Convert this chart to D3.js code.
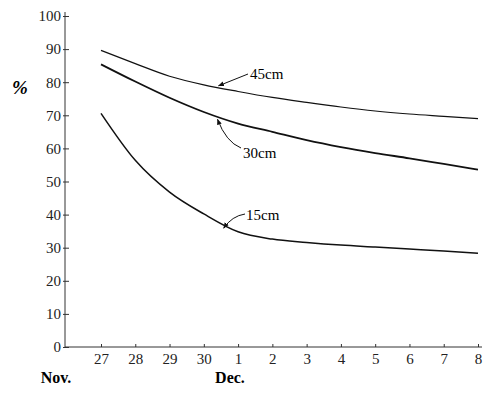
<!DOCTYPE html>
<html lang="en">
  <head>
    <meta charset="utf-8" />
    <title>soil moisture chart</title>
    <script type="text/javascript" src="https://d3js.org/d3.v7.min.js"></script>
    <style>
      body { margin: 0; background: #fff; }
    </style>
  </head>
  <body>
    <div id="graph"></div>

    <script type="text/javascript">
      /********************************
       * data
       ********************************/

      // day index 0 = Nov 27 ... 11 = Dec 8
      const days = [0, 1, 2, 3, 4, 5, 6, 7, 8, 9, 10, 11];
      const dayLabels = ["27", "28", "29", "30", "1", "2", "3", "4", "5", "6", "7", "8"];
      const yTicks = [0, 10, 20, 30, 40, 50, 60, 70, 80, 90, 100];

      const depth45 = [89.6, 85.6, 81.8, 79.2, 77.2, 75.4, 73.9, 72.5, 71.3, 70.4, 69.7, 69.0];
      const depth30 = [85.4, 80.2, 75.3, 71.0, 67.5, 65.0, 62.5, 60.4, 58.6, 57.0, 55.3, 53.6];
      const depth15 = [70.6, 56.4, 46.8, 40.2, 34.8, 32.6, 31.6, 30.8, 30.2, 29.6, 29.0, 28.3];

      const series = [
        { name: "45cm", values: depth45, width: 1.2 },
        { name: "30cm", values: depth30, width: 1.8 },
        { name: "15cm", values: depth15, width: 1.5 },
      ];

      const serif = '"Liberation Serif", "Times New Roman", Times, "DejaVu Serif", serif';

      /***************************
       * create svg
       **************************/

      const width = 488;
      const height = 394;

      const svg = d3
        .select("div#graph")
        .append("svg")
        .attr("width", width)
        .attr("height", height)
        .style("font-family", serif);

      /****************************
       * scale
       *************************/

      const xScale = d3.scaleLinear().domain([0, 11]).range([101, 478]);
      const yScale = d3.scaleLinear().domain([0, 100]).range([347, 16]);

      /*********************************
       * axes
       *******************************/

      const yAxis = d3
        .axisLeft(yScale)
        .tickValues(yTicks)
        .tickSizeInner(-4)
        .tickSizeOuter(0)
        .tickPadding(4);

      const yAxisGroup = svg
        .append("g")
        .attr("transform", "translate(65,0)")
        .call(yAxis)
        .attr("font-family", null);
      yAxisGroup.select(".domain").remove();
      yAxisGroup
        .selectAll("text")
        .style("font-family", serif)
        .style("font-size", "15px")
        .attr("fill", "#222");
      yAxisGroup.selectAll(".tick line").attr("stroke", "#333").attr("x1", -2);

      svg
        .append("line")
        .attr("x1", 65)
        .attr("x2", 65)
        .attr("y1", yScale(100) - 4)
        .attr("y2", yScale(0))
        .attr("stroke", "#333")
        .attr("stroke-width", 1);

      const xAxis = d3
        .axisBottom(xScale)
        .tickValues(days)
        .tickFormat((d) => dayLabels[d])
        .tickSizeInner(-3)
        .tickSizeOuter(0)
        .tickPadding(6);

      const xAxisGroup = svg
        .append("g")
        .attr("transform", `translate(0,${yScale(0)})`)
        .call(xAxis)
        .attr("font-family", null);
      xAxisGroup.select(".domain").remove();
      xAxisGroup
        .selectAll("text")
        .style("font-family", serif)
        .style("font-size", "15px")
        .attr("fill", "#222");
      xAxisGroup.selectAll(".tick line").attr("stroke", "#333");

      svg
        .append("line")
        .attr("x1", 65)
        .attr("x2", 482)
        .attr("y1", yScale(0))
        .attr("y2", yScale(0))
        .attr("stroke", "#333")
        .attr("stroke-width", 1);

      // month labels and unit
      svg
        .append("text")
        .attr("x", 56)
        .attr("y", 383)
        .attr("text-anchor", "middle")
        .style("font-family", serif)
        .style("font-size", "16px")
        .style("font-weight", "bold")
        .text("Nov.");

      svg
        .append("text")
        .attr("x", 230)
        .attr("y", 383)
        .attr("text-anchor", "middle")
        .style("font-family", serif)
        .style("font-size", "16px")
        .style("font-weight", "bold")
        .text("Dec.");

      svg
        .append("text")
        .attr("x", 20)
        .attr("y", 94)
        .attr("text-anchor", "middle")
        .style("font-family", serif)
        .style("font-size", "19px")
        .style("font-weight", "bold")
        .style("font-style", "italic")
        .text("%");

      /********************************
       * lines
       *******************************/

      const line = d3
        .line()
        .x((d, i) => xScale(days[i]))
        .y((d) => yScale(d))
        .curve(d3.curveMonotoneX);

      svg
        .selectAll("path.series")
        .data(series)
        .enter()
        .append("path")
        .attr("class", "series")
        .attr("d", (d) => line(d.values))
        .attr("fill", "none")
        .attr("stroke", "#111")
        .attr("stroke-width", (d) => d.width);

      /********************************
       * annotations with arrows
       *******************************/

      svg
        .append("defs")
        .append("marker")
        .attr("id", "arrow")
        .attr("viewBox", "0 0 10 10")
        .attr("refX", 9)
        .attr("refY", 5)
        .attr("markerWidth", 6)
        .attr("markerHeight", 6)
        .attr("orient", "auto")
        .append("path")
        .attr("d", "M0,1 L10,5 L0,9 Z")
        .attr("fill", "#111");

      // arrow tips sit just off points on the curves
      const notes = [
        { text: "45cm", day: 3.4, value: depth45[3] - 0.6, tx: 250, ty: 79, path: (p) => `M248,74 L${p[0] + 1},${p[1] - 1}` },
        { text: "30cm", day: 3.4, value: depth30[3] - 1.6, tx: 243, ty: 158, path: (p) => `M241,148 Q226,142 ${p[0]},${p[1] + 2}` },
        { text: "15cm", day: 3.55, value: depth15[4] + 0.8, tx: 246, ty: 220, path: (p) => `M245,214 Q232,216 ${p[0] + 1},${p[1] - 1}` },
      ];

      notes.forEach((n) => {
        const p = [xScale(n.day), yScale(n.value)];
        svg
          .append("path")
          .attr("d", n.path(p))
          .attr("fill", "none")
          .attr("stroke", "#111")
          .attr("stroke-width", 1)
          .attr("marker-end", "url(#arrow)");
        svg
          .append("text")
          .attr("x", n.tx)
          .attr("y", n.ty)
          .style("font-family", serif)
          .style("font-size", "15px")
          .text(n.text);
      });
    </script>
  </body>
</html>
